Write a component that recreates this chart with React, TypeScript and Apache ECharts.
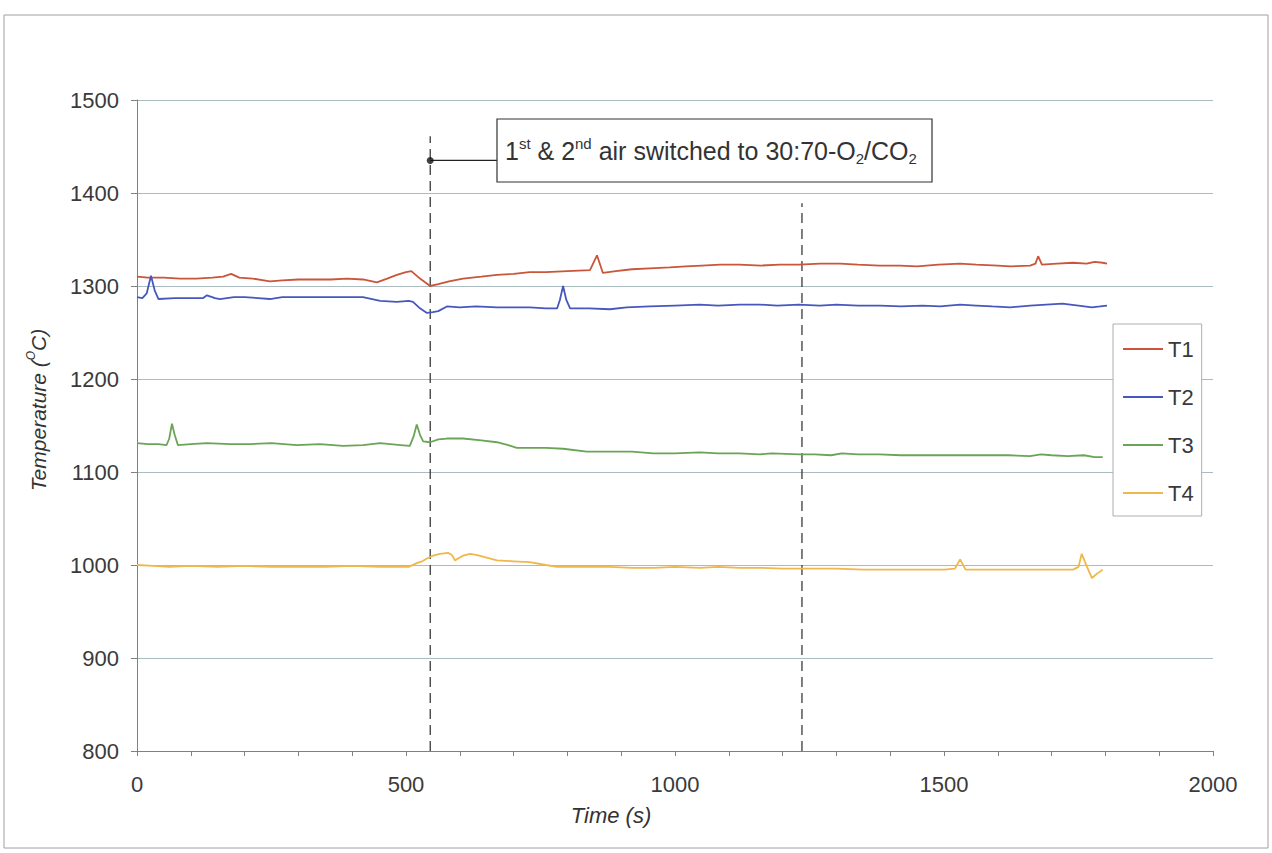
import React, { useEffect, useRef } from "react";
import * as echarts from "echarts";

const SERIES_NAMES = ["T1", "T2", "T3", "T4"];
const SERIES_COLORS = ["#c9553a", "#4658bd", "#6aa456", "#f0b74a"];

const T1_TIME = [0, 20, 50, 80, 110, 140, 160, 175, 190, 215, 247, 270, 300, 330, 360, 390, 420, 446, 465, 483, 500, 510, 526, 545, 560, 580, 606, 640, 669, 700, 730, 760, 800, 842, 855, 866, 890, 920, 953, 990, 1020, 1050, 1084, 1120, 1160, 1195, 1230, 1270, 1307, 1340, 1380, 1418, 1450, 1490, 1530, 1560, 1600, 1623, 1660, 1670, 1675, 1682, 1710, 1740, 1765, 1780, 1795, 1803];
const T1_VAL = [1310, 1309, 1309, 1308, 1308, 1309, 1310, 1313, 1309, 1308, 1305, 1306, 1307, 1307, 1307, 1308, 1307, 1304, 1308, 1312, 1315, 1316, 1308, 1300, 1302, 1305, 1308, 1310, 1312, 1313, 1315, 1315, 1316, 1317, 1333, 1314, 1316, 1318, 1319, 1320, 1321, 1322, 1323, 1323, 1322, 1323, 1323, 1324, 1324, 1323, 1322, 1322, 1321, 1323, 1324, 1323, 1322, 1321, 1322, 1324, 1332, 1323, 1324, 1325, 1324, 1326, 1325, 1324];

const T2_TIME = [0, 10, 18, 26, 33, 40, 70, 100, 123, 130, 145, 154, 180, 200, 225, 247, 270, 300, 340, 380, 420, 452, 483, 505, 513, 526, 539, 550, 560, 576, 600, 630, 669, 700, 730, 760, 781, 786, 792, 798, 805, 840, 879, 910, 953, 1000, 1046, 1080, 1120, 1158, 1190, 1230, 1269, 1300, 1340, 1381, 1420, 1460, 1493, 1530, 1560, 1590, 1623, 1660, 1690, 1720, 1750, 1775, 1790, 1803];
const T2_VAL = [1288, 1287, 1292, 1311, 1295, 1286, 1287, 1287, 1287, 1290, 1287, 1286, 1288, 1288, 1287, 1286, 1288, 1288, 1288, 1288, 1288, 1284, 1283, 1284, 1283, 1276, 1271, 1272, 1273, 1278, 1277, 1278, 1277, 1277, 1277, 1276, 1276, 1285, 1300, 1285, 1276, 1276, 1275, 1277, 1278, 1279, 1280, 1279, 1280, 1280, 1279, 1280, 1279, 1280, 1279, 1279, 1278, 1279, 1278, 1280, 1279, 1278, 1277, 1279, 1280, 1281, 1279, 1277, 1278, 1279];

const T3_TIME = [0, 20, 40, 55, 60, 65, 70, 76, 100, 130, 173, 210, 250, 297, 340, 383, 420, 452, 490, 507, 514, 520, 526, 532, 545, 560, 576, 606, 640, 669, 690, 706, 730, 760, 792, 836, 879, 920, 960, 1000, 1046, 1080, 1120, 1158, 1180, 1232, 1260, 1290, 1310, 1340, 1380, 1420, 1460, 1500, 1530, 1570, 1620, 1660, 1680, 1700, 1730, 1760, 1780, 1795];
const T3_VAL = [1131, 1130, 1130, 1129, 1136, 1152, 1140, 1129, 1130, 1131, 1130, 1130, 1131, 1129, 1130, 1128, 1129, 1131, 1129, 1128, 1138, 1151, 1140, 1133, 1132, 1135, 1136, 1136, 1134, 1132, 1129, 1126, 1126, 1126, 1125, 1122, 1122, 1122, 1120, 1120, 1121, 1120, 1120, 1119, 1120, 1119, 1119, 1118, 1120, 1119, 1119, 1118, 1118, 1118, 1118, 1118, 1118, 1117, 1119, 1118, 1117, 1118, 1116, 1116];

const T4_TIME = [0, 30, 60, 100, 150, 200, 250, 300, 350, 400, 450, 480, 505, 520, 530, 539, 550, 563, 578, 585, 591, 600, 606, 619, 630, 643, 669, 700, 730, 760, 781, 830, 879, 920, 960, 1000, 1046, 1080, 1120, 1158, 1200, 1250, 1300, 1350, 1400, 1450, 1500, 1520, 1530, 1540, 1580, 1620, 1660, 1700, 1740, 1750, 1756, 1765, 1775, 1785, 1795];
const T4_VAL = [1000, 999, 998, 999, 998, 999, 998, 998, 998, 999, 998, 998, 998, 1002, 1004, 1007, 1010, 1012, 1013, 1011, 1005, 1008, 1010, 1012, 1011, 1009, 1005, 1004, 1003, 1000, 998, 998, 998, 997, 997, 998, 997, 998, 997, 997, 996, 996, 996, 995, 995, 995, 995, 996, 1006, 995, 995, 995, 995, 995, 995, 998, 1012, 999, 986, 991, 995];

const SERIES_TIMES = [T1_TIME, T2_TIME, T3_TIME, T4_TIME];
const SERIES_VALUES = [T1_VAL, T2_VAL, T3_VAL, T4_VAL];

const X_MIN = 0;
const X_MAX = 2000;
const X_INTERVAL = 500;
const Y_MIN = 800;
const Y_MAX = 1500;
const Y_INTERVAL = 100;

// event markers: switch time and the second dashed marker
const EVENT_TIMES = [545, 1236];
const EVENT_TOPS = [1461, 1389];
const CALLOUT_POINT = [545, 1435];
const CALLOUT_END_TIME = 669;

const FONT = "'Liberation Sans', Arial, sans-serif";

export default function App() {
  const ref = useRef<HTMLDivElement>(null);
  useEffect(() => {
    if (!ref.current) return;
    const chart = echarts.init(ref.current, undefined, { renderer: "svg" });
    const pair = (ts: number[], vs: number[]) => ts.map((t, i) => [t, vs[i]]);
    const dataSeries: any[] = SERIES_NAMES.map((name, i) => ({
      name,
      type: "line",
      data: pair(SERIES_TIMES[i], SERIES_VALUES[i]),
      symbol: "none",
      lineStyle: { color: SERIES_COLORS[i], width: 1.8 },
      itemStyle: { color: SERIES_COLORS[i] },
      z: 3,
    }));
    const eventSeries: any[] = EVENT_TIMES.map((t, i) => ({
      name: "event" + i,
      type: "line",
      data: [
        [t, Y_MIN],
        [t, EVENT_TOPS[i]],
      ],
      symbol: "none",
      silent: true,
      lineStyle: { color: "#2a2a2a", width: 1.2, type: [10, 6] },
      z: 2,
    }));
    const calloutSeries: any[] = [
      {
        name: "callout",
        type: "line",
        data: [CALLOUT_POINT, [CALLOUT_END_TIME, CALLOUT_POINT[1]]],
        symbol: "none",
        silent: true,
        lineStyle: { color: "#222", width: 1.2 },
        z: 4,
      },
      {
        name: "calloutDot",
        type: "scatter",
        data: [CALLOUT_POINT],
        symbolSize: 7,
        silent: true,
        itemStyle: { color: "#111" },
        z: 5,
      },
    ];

    chart.setOption({
      animation: false,
      backgroundColor: "#ffffff",
      grid: { left: 137, right: 59, top: 100, bottom: 102 },
      xAxis: {
        type: "value",
        min: X_MIN,
        max: X_MAX,
        interval: X_INTERVAL,
        axisLine: { show: true, lineStyle: { color: "#808080", width: 1 } },
        axisTick: { show: true, length: 5, lineStyle: { color: "#808080" } },
        minorTick: { show: true, splitNumber: 5, length: 5, lineStyle: { color: "#808080" } },
        splitLine: { show: false },
        axisLabel: {
          fontSize: 22,
          color: "#3a3a3a",
          fontFamily: FONT,
          margin: 22,
          formatter: (v: number) => String(v),
        },
      },
      yAxis: {
        type: "value",
        min: Y_MIN,
        max: Y_MAX,
        interval: Y_INTERVAL,
        axisLine: { show: true, lineStyle: { color: "#808080", width: 1 } },
        axisTick: { show: true, length: 6, lineStyle: { color: "#808080" } },
        splitLine: { show: true, lineStyle: { color: "#aabcc0", width: 1 } },
        axisLabel: {
          fontSize: 22,
          color: "#3a3a3a",
          fontFamily: FONT,
          margin: 18,
          formatter: (v: number) => String(v),
        },
      },
      legend: {
        data: SERIES_NAMES.map((name) => ({ name, icon: "rect" })),
        orient: "vertical",
        left: 1113,
        top: 324,
        padding: [14, 8, 12, 10],
        itemGap: 26,
        itemWidth: 40,
        itemHeight: 2,
        itemTextGap: 7,
        backgroundColor: "#ffffff",
        borderColor: "#a8b0b0",
        borderWidth: 1,
        borderRadius: 0,
        textStyle: { fontSize: 22, color: "#3a3a3a", fontFamily: FONT, lineHeight: 22 },
      },
      series: [...eventSeries, ...dataSeries, ...calloutSeries],
      graphic: [
        {
          type: "rect",
          silent: true,
          z: -10,
          shape: { x: 4, y: 15, width: 1264, height: 833 },
          style: { fill: "none", stroke: "#a0a0a0", lineWidth: 1 },
        },
        {
          type: "rect",
          z: 50,
          shape: { x: 497, y: 119, width: 435, height: 63 },
          style: { fill: "#ffffff", stroke: "#333333", lineWidth: 1.2 },
        },
        {
          type: "text",
          z: 51,
          x: 505,
          y: 151,
          style: {
            text: "{n|1}{sup|st}{n| & 2}{sup|nd}{n| air switched to 30:70-O}{sub|2}{n|/CO}{sub|2}",
            verticalAlign: "middle",
            align: "left",
            fill: "#333",
            rich: {
              n: { fontSize: 25, fontFamily: FONT, fill: "#333", lineHeight: 30, verticalAlign: "middle" },
              sup: { fontSize: 15, fontFamily: FONT, fill: "#333", lineHeight: 15, verticalAlign: "top" },
              sub: { fontSize: 15, fontFamily: FONT, fill: "#333", lineHeight: 15, verticalAlign: "bottom" },
            },
          },
        },
        {
          type: "text",
          x: 38,
          y: 410,
          rotation: Math.PI / 2,
          style: {
            text: "{n|Temperature (}{sup|O}{n|C)}",
            align: "center",
            verticalAlign: "middle",
            fill: "#333",
            rich: {
              n: { fontSize: 21, fontStyle: "italic", fontFamily: FONT, fill: "#333", lineHeight: 26, verticalAlign: "middle" },
              sup: { fontSize: 12, fontStyle: "italic", fontFamily: FONT, fill: "#333", lineHeight: 12, verticalAlign: "top" },
            },
          },
        },
        {
          type: "text",
          x: 611,
          y: 815,
          style: {
            text: "Time (s)",
            align: "center",
            verticalAlign: "middle",
            fill: "#333",
            font: "italic 22px 'Liberation Sans', Arial, sans-serif",
          },
        },
      ],
    });
    return () => chart.dispose();
  }, []);
  return (
    <div
      ref={ref}
      style={{ position: "fixed", left: 0, top: 0, width: 1272, height: 853, background: "#fff" }}
    />
  );
}
